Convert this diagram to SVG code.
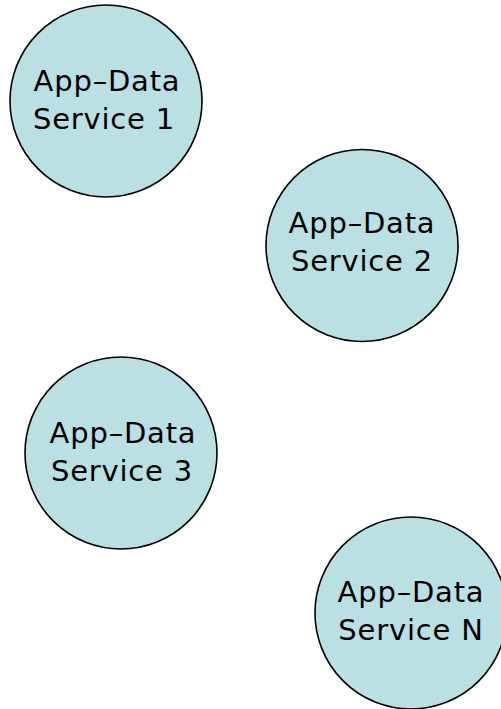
<svg xmlns="http://www.w3.org/2000/svg" width="501" height="709" viewBox="0 0 501 709">
  <style>
    .svc { fill: #bbe0e3; stroke: #000; stroke-width: 1.6; }
    .lbl { font-family: "DejaVu Sans", Verdana, sans-serif; font-size: 29px; letter-spacing: 0.8px; fill: #000; text-anchor: middle; }
  </style>
  <rect width="501" height="709" fill="#fff"/>
  <g id="connectors"/>
  <g id="service-1">
    <circle class="svc" cx="106" cy="101" r="96"/>
    <text class="lbl" x="107" y="91">App–Data</text>
    <text class="lbl" x="104" y="129">Service 1</text>
  </g>
  <g id="service-2">
    <circle class="svc" cx="362" cy="245.5" r="96"/>
    <text class="lbl" x="362" y="233">App–Data</text>
    <text class="lbl" x="362" y="271">Service 2</text>
  </g>
  <g id="service-3">
    <circle class="svc" cx="121" cy="453" r="96"/>
    <text class="lbl" x="123" y="443">App–Data</text>
    <text class="lbl" x="122" y="481">Service 3</text>
  </g>
  <g id="service-n">
    <circle class="svc" cx="411" cy="613" r="96"/>
    <text class="lbl" x="411" y="602">App–Data</text>
    <text class="lbl" x="411" y="640">Service N</text>
  </g>
</svg>
